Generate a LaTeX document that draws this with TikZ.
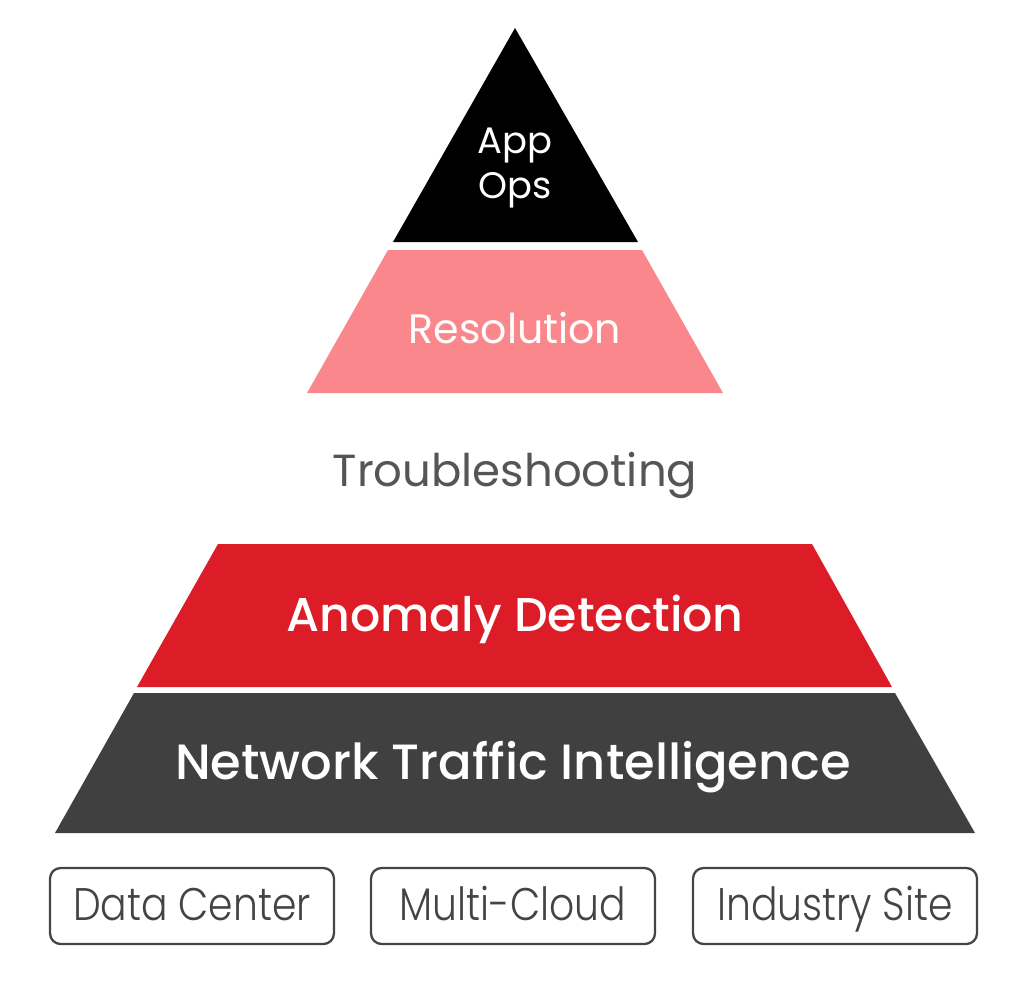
\documentclass[tikz,border=0pt]{standalone}
\usepackage{fontspec}
\setmainfont{Poppins}
\newfontfamily\popmed{Poppins Medium}
\newfontfamily\poplight{Poppins Light}
\usepackage{xcolor}
\definecolor{appblack}{HTML}{000000}
\definecolor{respink}{HTML}{F9878C}
\definecolor{anored}{HTML}{DC1C26}
\definecolor{netgray}{HTML}{404040}
\definecolor{txtgray}{HTML}{555555}
\definecolor{boxgray}{HTML}{444444}
\newcommand\narrowtxt[1]{\scalebox{0.86}[1]{#1}}
\tikzset{
	layer/.style={fill=#1, draw=none},
	lbl/.style={text=white, align=center, inner sep=0pt},
	site/.style={draw=boxgray, line width=1.3pt, rounded corners=6pt,
			minimum width=5.68cm, minimum height=1.52cm, inner sep=0pt,
			text height=0.62cm, text depth=0.06cm,
			font=\poplight\fontsize{26}{30}\selectfont, text=boxgray}
}

\begin{document}
\begin{tikzpicture}[x=0.02cm, y=-0.02cm]
		\useasboundingbox (0, 0) rectangle (1028, 1005);
		\fill[layer=appblack] (515, 28) -- (638, 242) -- (393, 242) -- cycle;
		\fill[layer=respink] (388, 250) -- (642, 250) -- (723, 393) -- (307, 393) -- cycle;
		\fill[layer=anored] (218, 544) -- (812, 544) -- (892, 687) -- (137, 687) -- cycle;
		\fill[layer=netgray] (134, 693) -- (895, 693) -- (975, 833) -- (55, 833) -- cycle;
		\node[lbl, font=\fontsize{21}{25.5}\selectfont] (app) at (515, 168) {App\\Ops};
		\node[lbl, font=\fontsize{23.4}{28}\selectfont] (res) at (515, 328) {Resolution};
		\node[lbl, text=txtgray, font=\fontsize{25.6}{30}\selectfont] (trouble) at (515, 475) {Troubleshooting};
		\node[lbl, font=\popmed\fontsize{27}{32}\selectfont] (anomaly) at (515, 619) {Anomaly Detection};
		\node[lbl, font=\popmed\fontsize{28.2}{34}\selectfont] (net) at (513, 767) {Network Traffic Intelligence};
		\node[site] (dc) at (192, 906) {\narrowtxt{Data Center}};
		\node[site] (cloud) at (513, 906) {\narrowtxt{Multi-Cloud}};
		\node[site] (ind) at (835, 906) {\narrowtxt{Industry Site}};
	\end{tikzpicture}
\end{document}
